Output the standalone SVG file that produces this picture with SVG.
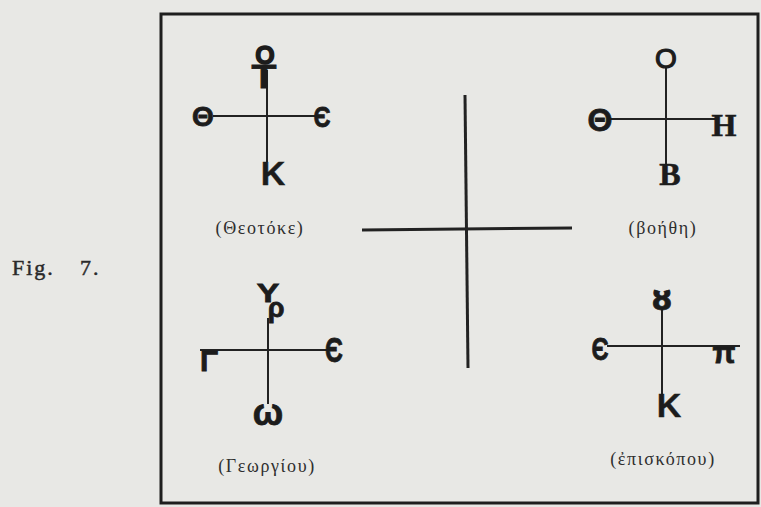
<svg xmlns="http://www.w3.org/2000/svg" width="761" height="507" viewBox="0 0 761 507">
<style>
.bg{fill:#e8e8e5}
.frame{fill:none;stroke:#1e1e1e;stroke-width:3}
.ln{stroke:#222;stroke-width:2;fill:none}
.big{stroke:#222;stroke-width:3;fill:none}
.ls{font-family:"Liberation Sans","DejaVu Sans",sans-serif;font-weight:bold;fill:#1c1c1c;stroke:#1c1c1c;stroke-width:0.8;text-anchor:middle}
.lr{font-family:"Liberation Serif","DejaVu Serif",serif;font-weight:bold;fill:#1c1c1c;stroke:#1c1c1c;stroke-width:0.6;text-anchor:middle}
.cap{font-family:"Liberation Serif","DejaVu Serif",serif;font-size:18px;fill:#2e2e2e;text-anchor:middle;letter-spacing:1.6px}
.fig{font-family:"Liberation Serif","DejaVu Serif",serif;font-size:22px;fill:#2a2a2a;stroke:#2a2a2a;stroke-width:0.5;letter-spacing:2px}
</style>
<rect class="bg" x="0" y="0" width="761" height="507"/>
<g id="frame"><rect class="frame" x="161" y="14" width="597" height="489"/></g>
<g id="figlabel"><text class="fig" x="12" y="275">Fig.<tspan x="80">7.</tspan></text></g>
<g id="connectors">
<line class="big" x1="465" y1="95" x2="468" y2="368"/>
<line class="big" x1="362" y1="230" x2="572" y2="228"/>
<line class="ln" x1="267" y1="70" x2="267" y2="162"/>
<line class="ln" x1="213" y1="116" x2="315" y2="116"/>
<line class="ln" x1="666" y1="66" x2="666" y2="164"/>
<line class="ln" x1="607" y1="119" x2="717" y2="119"/>
<line class="ln" x1="268" y1="318" x2="268" y2="404"/>
<line class="ln" x1="200" y1="350" x2="333" y2="350"/>
<line class="ln" x1="662" y1="308" x2="662" y2="400"/>
<line class="ln" x1="607" y1="346" x2="740" y2="346"/>
</g>
<g id="theotoke">
<text class="ls" x="265" y="64" font-size="25" style="stroke-width:1.4">Ο</text>
<text class="ls" x="264" y="88" font-size="34" transform="translate(264 0) scale(1.2 1) translate(-264 0)">Τ</text>
<text class="ls" x="203" y="126" font-size="28">Θ</text>
<text class="ls" x="322" y="127" font-size="30" transform="translate(322 0) scale(0.8 1) translate(-322 0)">Є</text>
<text class="ls" x="273" y="185" font-size="34" style="stroke-width:0.4">K</text>
<text class="cap" x="260" y="234">(Θεοτόκε)</text>
</g>
<g id="boithi">
<text class="ls" x="666" y="68" font-size="28" style="font-weight:normal;stroke-width:1.2">Ο</text>
<text class="ls" x="600" y="131" font-size="32">Θ</text>
<text class="lr" x="724" y="136" font-size="32">Η</text>
<text class="lr" x="670" y="185" font-size="32">Β</text>
<text class="cap" x="663" y="234">(βοήθη)</text>
</g>
<g id="georgiou">
<text class="ls" x="268" y="302" font-size="26" transform="translate(268 0) scale(1.3 1) translate(-268 0)">Y</text>
<text class="ls" x="276" y="317" font-size="27">ρ</text>
<text class="ls" x="209" y="371" font-size="30">Γ</text>
<text class="ls" x="334" y="362" font-size="36" transform="translate(334 0) scale(0.7 1) translate(-334 0)">Є</text>
<text class="ls" x="268" y="425" font-size="36">ω</text>
<text class="cap" x="267" y="472">(Γεωργίου)</text>
</g>
<g id="episkopou">
<text class="ls" x="662" y="310" font-size="30" style="font-family:'DejaVu Sans',sans-serif">ȣ</text>
<text class="ls" x="600" y="360" font-size="32" transform="translate(600 0) scale(0.75 1) translate(-600 0)">Є</text>
<text class="ls" x="724" y="363" font-size="30">π</text>
<text class="ls" x="669" y="417" font-size="34" style="stroke-width:0.4">K</text>
<text class="cap" x="663" y="465">(ἐπισκόπου)</text>
</g>
</svg>
